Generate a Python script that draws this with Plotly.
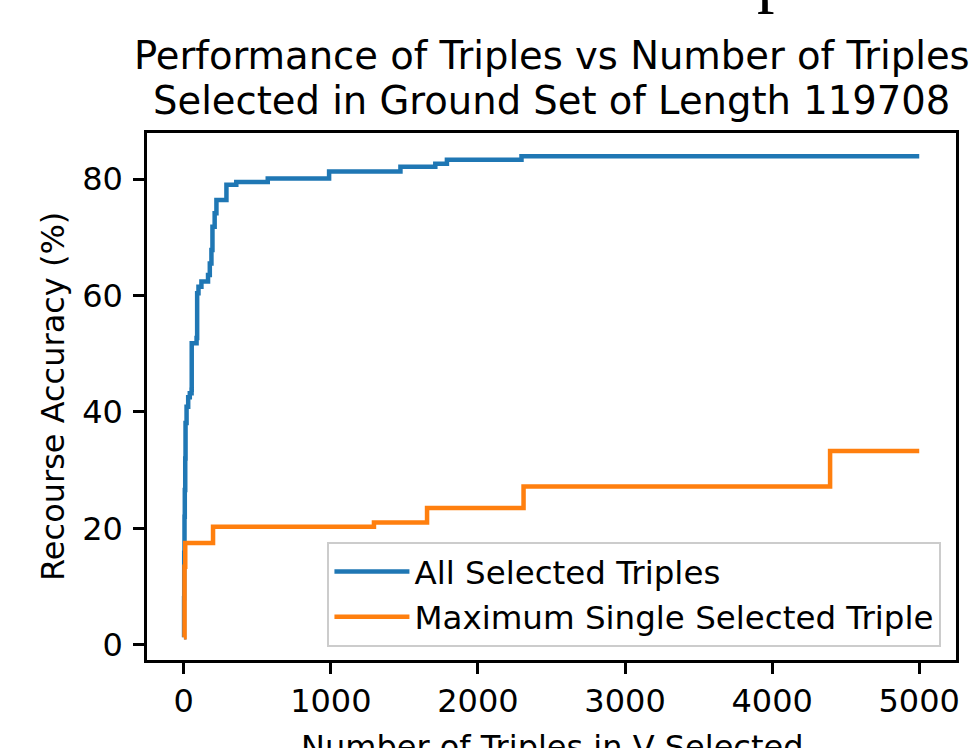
import plotly.graph_objects as go

# Data (step change-points)
all_x = [1, 2, 3, 5, 7, 10, 12, 19, 30, 41, 53, 54, 87, 91, 100, 120, 165, 177,
         188, 195, 210, 222, 290, 357, 571, 988, 1473, 1710, 1789, 2296, 5000]
all_y = [1.3, 8, 15.8, 22, 26.6, 32, 38.1, 40.9, 42.5, 43.2, 43.8, 51.8, 52.7, 60.4,
         61.5, 62.4, 63.5, 65.5, 67.8, 71.8, 74.1, 76.4, 79.0, 79.5, 80.1, 81.3, 82.1,
         82.6, 83.3, 83.9, 83.9]

max_x = [1, 5, 10, 199, 1293, 1654, 2310, 4394, 5000]
max_y = [1.3, 13.4, 17.5, 20.3, 21.0, 23.5, 27.2, 33.3, 33.3]

x_ticks = [0, 1000, 2000, 3000, 4000, 5000]
y_ticks = [0, 20, 40, 60, 80]

title_line1 = "Performance of Triples vs Number of Triples"
title_line2 = "Selected in Ground Set of Length 119708"
x_label = "Number of Triples in V Selected"
y_label = "Recourse Accuracy (%)"

FONT = "DejaVu Sans"

fig = go.Figure()
fig.add_trace(go.Scatter(x=all_x, y=all_y, mode="lines", line_shape="hv",
                         name="All Selected Triples",
                         line=dict(color="#1f77b4", width=4.5)))
fig.add_trace(go.Scatter(x=max_x, y=max_y, mode="lines", line_shape="hv",
                         name="Maximum Single Selected Triple",
                         line=dict(color="#ff7f0e", width=4.5)))

axis_common = dict(showline=True, linecolor="black", linewidth=2.5, mirror=True,
                   ticks="outside", ticklen=11, tickwidth=2.5, tickcolor="black",
                   showgrid=False, zeroline=False,
                   tickfont=dict(family=FONT, size=32, color="black"))

fig.update_xaxes(range=[-250, 5250], tickvals=x_ticks,
                 ticktext=[str(v) for v in x_ticks], **axis_common)
fig.update_yaxes(range=[-2.6, 87.9], tickvals=y_ticks,
                 ticktext=[str(v) for v in y_ticks], ticklabelstandoff=4,
                 **axis_common)

fig.update_layout(
    width=970, height=748,
    margin=dict(l=147, r=10, t=133, b=88),
    paper_bgcolor="white", plot_bgcolor="white",
    font=dict(family=FONT, size=32, color="black"),
    showlegend=True,
    legend=dict(x=0.982, y=0.025, xanchor="right", yanchor="bottom",
                itemwidth=75,
                bgcolor="rgba(255,255,255,0.8)", bordercolor="#cccccc", borderwidth=2,
                font=dict(family=FONT, size=32.5, color="black")),
    annotations=[
        dict(text=title_line1, xref="paper", yref="paper", x=0.5, y=1.148,
             xanchor="center", yanchor="middle", showarrow=False,
             font=dict(family=FONT, size=38.5, color="black")),
        dict(text=title_line2, xref="paper", yref="paper", x=0.5, y=1.0626,
             xanchor="center", yanchor="middle", showarrow=False,
             font=dict(family=FONT, size=38.5, color="black")),
        dict(text=y_label, xref="paper", yref="paper", x=-0.1169, y=0.5,
             xanchor="center", yanchor="middle", textangle=-90, showarrow=False,
             font=dict(family=FONT, size=32, color="black")),
        dict(text=x_label, xref="paper", yref="paper", x=0.5, y=-0.165,
             xanchor="center", yanchor="middle", showarrow=False,
             font=dict(family=FONT, size=32, color="black")),
        dict(text="p", xref="paper", yref="paper", x=0.776, y=1.299,
             xanchor="center", yanchor="middle", showarrow=False,
             font=dict(family="Liberation Serif", size=70, color="black")),
    ],
)

fig.write_html("out.html", config={"displayModeBar": False},
               post_script="document.body.style.margin='0';document.body.style.overflow='hidden';")
